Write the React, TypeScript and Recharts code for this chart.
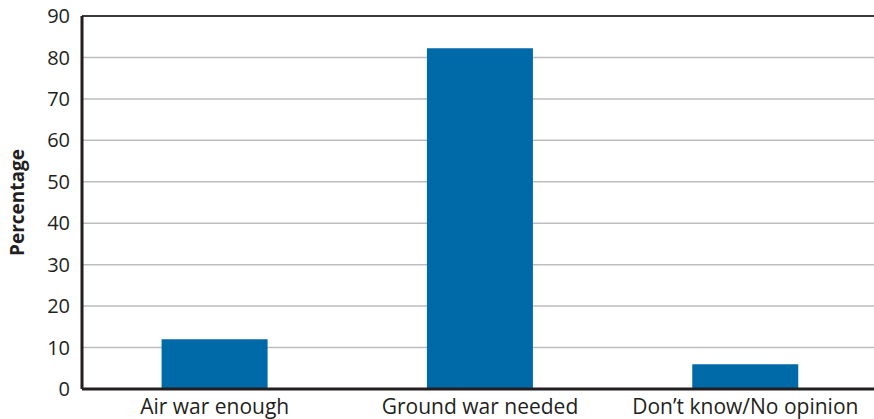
import { Bar, BarChart, CartesianGrid, ReferenceLine, XAxis, YAxis } from 'recharts';

const categories = ['Air war enough', 'Ground war needed', 'Don\u2019t know/No opinion'];
const percentages = [12, 82.2, 6];
const yTicks = [0, 10, 20, 30, 40, 50, 60, 70, 80, 90];

const data = categories.map((name, i) => ({ name, value: percentages[i] }));

const font = '"Open Sans", "DejaVu Sans", sans-serif';

export default function App() {
  return (
    <div style={{ position: 'absolute', left: 0, top: 0, width: 874, height: 419, overflow: 'hidden', background: '#fff' }}>
      <BarChart
        width={878}
        height={419}
        data={data}
        margin={{ top: 16, right: 0, left: 0, bottom: 0 }}
        barCategoryGap="30%"
      >
        <CartesianGrid vertical={false} stroke="#bdbdbd" strokeWidth={1.5} />
        <ReferenceLine y={90} stroke="#3a3a3a" strokeWidth={2} />
        <XAxis
          dataKey="name"
          height={30}
          tickLine={false}
          tickSize={0}
          tickMargin={10}
          axisLine={{ stroke: '#231f20', strokeWidth: 3 }}
          tick={{ fontSize: 21, fill: '#231f20', fontFamily: font }}
          interval={0}
        />
        <YAxis
          width={82}
          domain={[0, 90]}
          ticks={yTicks}
          tickLine={false}
          tickSize={0}
          tickMargin={12}
          axisLine={{ stroke: '#231f20', strokeWidth: 3 }}
          tick={{ fontSize: 20, fill: '#231f20', fontFamily: font }}
          label={{
            value: 'Percentage',
            angle: -90,
            position: 'insideLeft',
            offset: 17,
            style: { fontSize: 19, fontWeight: 700, fill: '#231f20', fontFamily: font, textAnchor: 'middle' },
          }}
        />
        <Bar dataKey="value" fill="#006aa9" isAnimationActive={false} />
      </BarChart>
    </div>
  );
}
